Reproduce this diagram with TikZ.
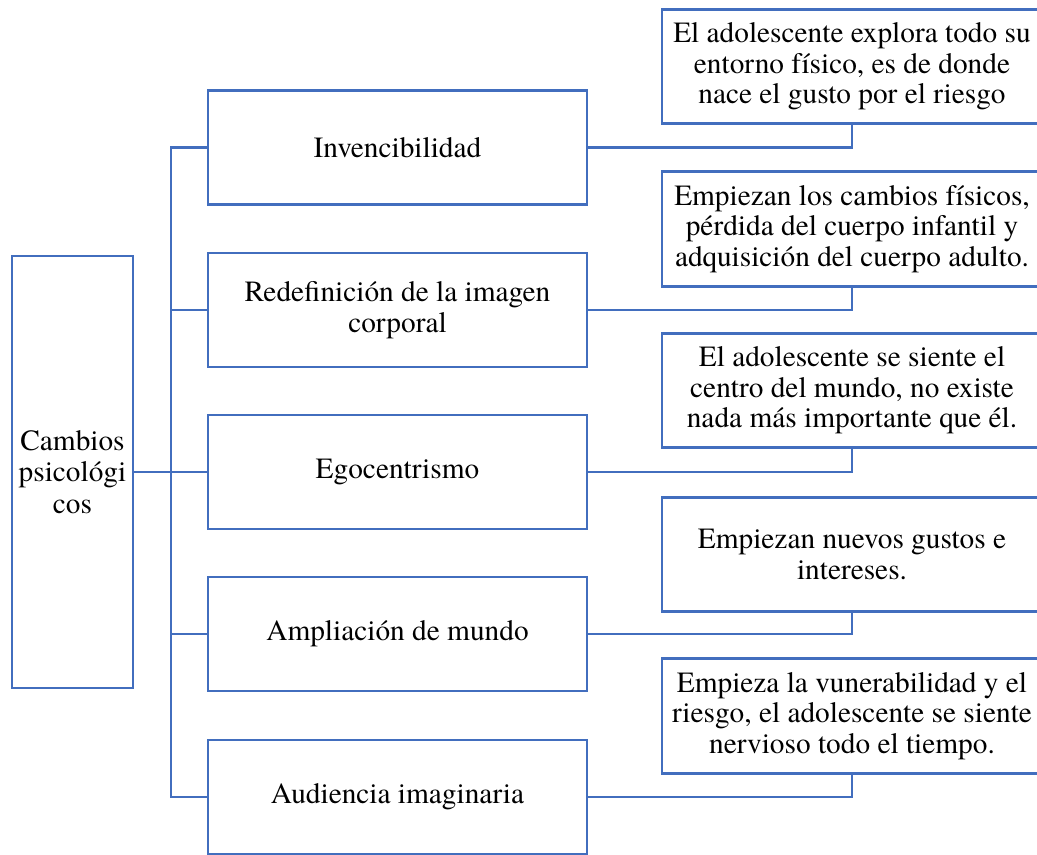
\documentclass[tikz,border=0pt]{standalone}
\usepackage{fontspec}
\setmainfont{texgyretermes}[Extension=.otf,UprightFont=*-regular,BoldFont=*-bold,ItalicFont=*-italic,BoldItalicFont=*-bolditalic]
\definecolor{boxblue}{RGB}{66,110,190}
\begin{document}
\begin{tikzpicture}[x=0.75pt,y=-0.75pt,
  base/.style={draw=boxblue,line width=2.2pt,fill=white,inner sep=0pt,align=center,
    font=\fontsize{22}{22.8}\selectfont,text=black},
  leftbox/.style={base,minimum width=90.75pt,minimum height=324pt},
  midbox/.style={base,minimum width=284.25pt,minimum height=85.5pt},
  rightbox/.style={base,minimum width=285pt,minimum height=86pt},
  link/.style={draw=boxblue,line width=2.2pt}]
\useasboundingbox (0,0) rectangle (1037,854);
\node[leftbox,font=\fontsize{22}{23.5}\selectfont] (L) at (72.5,472) {Cambios\\psicológi\\cos};
\node[midbox] (m1) at (397.5,147.5) {Invencibilidad};
\node[midbox] (m2) at (397.5,310) {Redefinición de la imagen\\corporal};
\node[midbox] (m3) at (397.5,472) {Egocentrismo};
\node[midbox] (m4) at (397.5,634) {Ampliación de mundo};
\node[midbox] (m5) at (397.5,797) {Audiencia imaginaria};
\node[rightbox] (r1) at (852,66.5) {El adolescente explora todo su\\entorno físico, es de donde\\nace el gusto por el riesgo};
\node[rightbox] (r2) at (852,229) {Empiezan los cambios físicos,\\pérdida del cuerpo infantil y\\adquisición del cuerpo adulto.};
\node[rightbox] (r3) at (852,390.5) {El adolescente se siente el\\centro del mundo, no existe\\nada más importante que él.};
\node[rightbox] (r4) at (852,554.5) {Empiezan nuevos gustos e\\intereses.};
\node[rightbox] (r5) at (852,716) {Empieza la vunerabilidad y el\\riesgo, el adolescente se siente\\nervioso todo el tiempo.};
\coordinate (t1) at (171,147.5);
\coordinate (t5) at (171,797);
\draw[link] (m1.west) -- (t1) -- (t5) -- (m5.west);
\draw[link] (L.east) -- (L.east -| t1);
\draw[link] (m2.west) -- (m2.west -| t1);
\draw[link] (m3.west) -- (m3.west -| t1);
\draw[link] (m4.west) -- (m4.west -| t1);
\draw[link] (m1.east) -| (r1.south);
\draw[link] (m2.east) -| (r2.south);
\draw[link] (m3.east) -| (r3.south);
\draw[link] (m4.east) -| (r4.south);
\draw[link] (m5.east) -| (r5.south);
\end{tikzpicture}
\end{document}
